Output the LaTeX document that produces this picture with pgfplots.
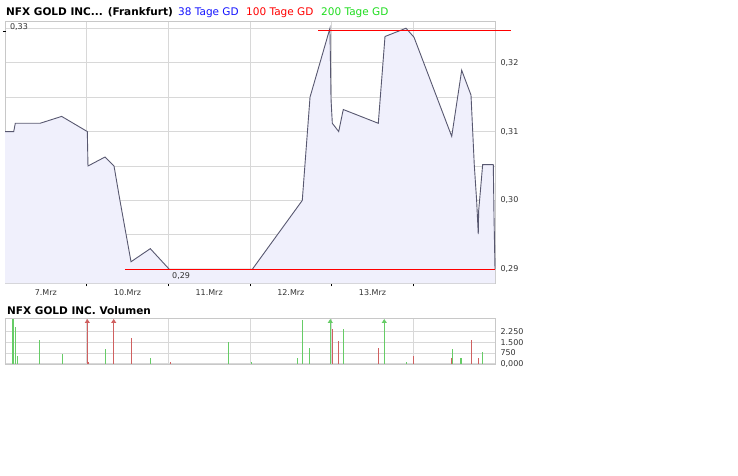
\documentclass[border=0pt]{standalone}
\usepackage{fontspec}
\setmainfont{DejaVu Sans}
\usepackage{pgfplots}
\pgfplotsset{compat=1.18}
\usepackage{pgfplotstable}
\usetikzlibrary{arrows.meta}

\definecolor{gridc}{RGB}{216,216,216}
\definecolor{framec}{RGB}{200,200,200}
\definecolor{fillc}{RGB}{240,240,252}
\definecolor{linec}{RGB}{88,88,112}
\definecolor{labc}{RGB}{51,51,51}
\definecolor{volg}{RGB}{102,204,102}
\definecolor{volr}{RGB}{208,96,96}
\definecolor{legb}{RGB}{20,20,255}
\definecolor{legr}{RGB}{255,0,0}
\definecolor{legg}{RGB}{30,220,30}

% price, x = days from left edge
\pgfplotstableread{
x y
0.000 0.3100
0.107 0.3100
0.126 0.3112
0.429 0.3112
0.694 0.3122
1.008 0.3100
1.016 0.3050
1.224 0.3063
1.335 0.3050
1.400 0.3005
1.543 0.2911
1.779 0.2930
2.012 0.2900
3.028 0.2900
3.640 0.3000
3.735 0.3150
3.979 0.3250
3.992 0.3147
4.008 0.3112
4.086 0.3100
4.142 0.3132
4.571 0.3112
4.653 0.3238
4.910 0.3250
5.008 0.3237
5.470 0.3093
5.592 0.3189
5.706 0.3153
5.746 0.3052
5.775 0.3000
5.795 0.2951
5.800 0.2985
5.849 0.3052
5.979 0.3052
5.988 0.2976
6.000 0.2900
}\price

\pgfplotstableread{
x y
0.126 2560
0.151 525
0.420 1650
0.702 670
1.233 1020
1.779 385
2.734 1510
3.021 105
3.579 385
3.640 3050
3.726 1090
4.147 2440
4.914 105
5.482 1020
5.844 810
}\volgreen

\pgfplotstableread{
x y
0.094 3150
5.580 385
}\volgreenthick

\pgfplotstableread{
x y
1.020 100
1.551 1790
2.024 105
4.008 2440
4.081 1580
4.571 1090
5.008 547
5.465 385
5.710 1650
5.795 385
}\volred

\pgfplotstableread{
x y v
1.008 0 3130
1.331 0 3130
}\volredup

\pgfplotstableread{
x y v
3.983 0 3130
4.644 0 3130
}\volgreenup

\begin{document}
\begin{tikzpicture}
\useasboundingbox (0,0) rectangle (738pt,475pt);

\node[anchor=base west, inner sep=0, font=\bfseries\fontsize{10.5}{12}\selectfont] at (6pt,459pt) {NFX GOLD INC... (Frankfurt)};
\node[anchor=base west, inner sep=0, text=legb, font=\fontsize{10.5}{12}\selectfont] at (178pt,459pt) {38 Tage GD};
\node[anchor=base west, inner sep=0, text=legr, font=\fontsize{10.5}{12}\selectfont] at (246pt,459pt) {100 Tage GD};
\node[anchor=base west, inner sep=0, text=legg, font=\fontsize{10.5}{12}\selectfont] at (321pt,459pt) {200 Tage GD};

\begin{axis}[
    at={(5pt,191.7pt)}, anchor=south west,
    scale only axis, width=490pt, height=262.3pt,
    xmin=0, xmax=6, ymin=0.28797, ymax=0.32605,
    clip=false,
    axis line style={framec, line width=0.8pt},
    xtick={0.5,1.5,2.5,3.5,4.5},
    xticklabels={7.Mrz,10.Mrz,11.Mrz,12.Mrz,13.Mrz},
    minor xtick={1,2,3,4,5},
    ytick={0.29,0.295,0.30,0.305,0.31,0.315,0.32,0.325},
    yticklabels={{0,29},{},{0,30},{},{0,31},{},{0,32},{}},
    xmajorgrids=false, xminorgrids=true, ymajorgrids=true,
    grid style={gridc, line width=0.8pt},
    major tick length=0pt, minor tick length=3pt,
    tick align=outside, xtick pos=bottom, ytick pos=right,
    every minor tick/.append style={black, line width=0.8pt},
    yticklabel pos=right,
    tick label style={font=\fontsize{8}{9}\selectfont, text=labc},
    xticklabel style={anchor=base, yshift=-12pt},
    yticklabel style={anchor=west, xshift=2pt},
]
\addplot[fill=fillc, draw=none] table {\price} \closedcycle;
\addplot[draw=linec, line width=0.9pt] table {\price};
\draw[black, line width=0.8pt] (axis cs:-0.025,0.3246) -- (axis cs:0.018,0.3246);
\node[anchor=west, inner sep=0, font=\fontsize{8}{9}\selectfont, text=labc] at (axis cs:0.06,0.3252) {0,33};
\node[anchor=north west, inner sep=0, font=\fontsize{8}{9}\selectfont, text=labc] at (axis cs:2.045,0.2895) {0,29};
% min and max lines
\addplot[draw=legr, line width=1pt] coordinates {(3.836,0.3247) (6.196,0.3247)};
\addplot[draw=legr, line width=1pt] coordinates {(1.469,0.29) (6,0.29)};
\end{axis}

\node[anchor=base west, inner sep=0, font=\bfseries\fontsize{10.5}{12}\selectfont] at (7pt,160.4pt) {NFX GOLD INC. Volumen};

\begin{axis}[
    at={(5pt,110.7pt)}, anchor=south west,
    scale only axis, width=490pt, height=45.6pt,
    xmin=0, xmax=6, ymin=-50, ymax=3150,
    clip=false,
    axis line style={framec, line width=0.8pt},
    xtick={1,2,3,4,5}, xticklabels={},
    ytick={0,750,1500,2250},
    yticklabels={{0,000},{750},{1.500},{2.250}},
    xmajorgrids=true, ymajorgrids=true,
    grid style={gridc, line width=0.8pt},
    major tick length=0pt,
    ytick pos=right, yticklabel pos=right,
    tick label style={font=\fontsize{8}{9}\selectfont, text=labc},
    yticklabel style={anchor=west, xshift=2pt},
]
\addplot[ycomb, volg, line width=1pt, mark=none] table {\volgreen};
\addplot[ycomb, volg, line width=2pt, mark=none] table {\volgreenthick};
\addplot[ycomb, volr, line width=1pt, mark=none] table {\volred};
\addplot[volr, line width=1pt, -{Triangle[length=4pt,width=5pt]},
    quiver={u=0, v=\thisrow{v}}] table[x=x, y=y] {\volredup};
\addplot[volg, line width=1pt, -{Triangle[length=4pt,width=5pt]},
    quiver={u=0, v=\thisrow{v}}] table[x=x, y=y] {\volgreenup};
\end{axis}
\end{tikzpicture}
\end{document}
